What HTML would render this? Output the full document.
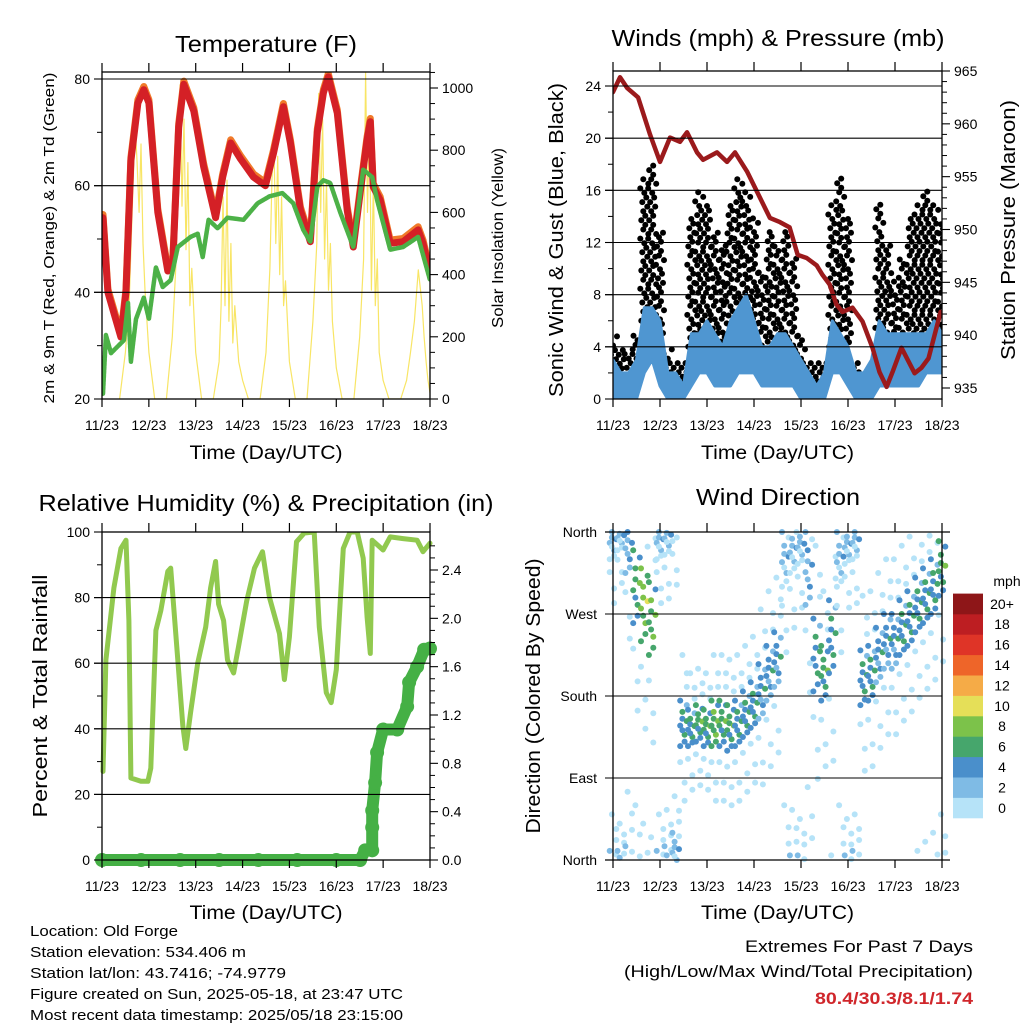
<!DOCTYPE html>
<html><head><meta charset="utf-8"><style>
html,body{margin:0;padding:0;background:#fff}
svg{display:block;font-family:"Liberation Sans",sans-serif}
</style></head><body>
<svg id="c" width="1024" height="1024" viewBox="0 0 1024 1024">
<rect width="1024" height="1024" fill="#fff"/>
</svg>
<script>
// ---------- data (time in hours since 11/23 UTC) ----------
const dayLabels=["11/23","12/23","13/23","14/23","15/23","16/23","17/23","18/23"];
const tempT=[0.5,3,9.7,12.3,14.8,18.4,21.4,24,28.6,33.7,36.3,39.3,41.9,47,52.1,58.2,61.8,65.9,71,77.6,83.7,87.8,92.9,96.5,101.6,106.7,110.3,113.4,115.9,120.5,125.6,128.7,132.2,135.8,137.4,138.9,142.5,147.6,154.2,161.9,164.4,168];
const tempV=[54,40,31.6,40,64.7,75.5,78,75.5,55,44,46,71,79,74,63.5,54,61.6,68,65,61.6,60,66,74.8,68,55.4,49.5,70,77.4,80.4,73.6,55.4,48.5,58.6,68.6,72,59.8,57.3,49.2,49.5,51.7,49.2,43.6];
const dewT=[0.5,2,4.6,11.2,13.3,14.8,17.4,21.4,24,27.6,31.1,35.2,38.8,45.4,49,51.6,54.6,59.2,64.3,72.5,79.7,85.8,92.4,98,103.1,106.7,110.3,113.4,116.9,122,128.7,133.8,138.4,140.9,147.6,154.2,161.9,168];
const dewV=[21,32,28.6,31,38,27,35,39,35,44.7,41,42.3,48.5,50.4,51,46.6,53.6,52,54,53.6,56.7,58,58.6,56.7,51.7,49.5,59.8,61,60.5,55,48.5,63,61.6,57.3,48,48.5,50.4,42.3];
const solarT=[9,12,14,15,16,17,18,19,20,21,22,24,27,
 33,36,38,39,40,41,42,43,44,45,46,48,51,
 57,60,61,62,63,64,65,66,67,68,70,72,75,
 81,84,86,87,88,89,90,91,92,93,94,96,99,
 105,108,110,111,112,113,114,115,116,117,118,120,123,
 129,132,134,135,136,137,138,139,140,141,142,144,147,
 153,156,158,160,162,164,165,166,167,168];
const solarV=[0,150,320,520,700,880,760,600,820,500,350,150,0,
 0,200,450,700,1010,620,900,480,760,300,420,150,0,
 0,120,300,650,300,704,250,500,180,300,120,60,0,
 0,150,420,700,842,500,780,400,650,300,380,120,0,
 0,250,500,983,600,900,450,700,350,500,250,100,0,
 0,200,450,1050,600,900,350,700,300,450,150,60,0,
 0,60,150,250,415,300,200,120,60,20];
const presT=[0,3.6,7.2,12.8,18.9,24,29.1,34.2,37.8,42.9,46,53.1,58.2,62.3,68.4,73.5,80.1,85.2,90.2,94.3,98.9,104,107,110.6,114.1,117.2,122.3,127.4,132.5,136.1,139.7,142.7,147.3,154,157.5,161.1,167.3];
const presV=[963,964.4,963.4,962.5,959,956.4,958.7,958.3,959.2,957.3,956.6,957.3,956.4,957.3,955.5,953.6,951.1,950.7,950.2,947.6,947.3,946.6,945.7,944.8,942.9,942.2,942.6,941.3,938.8,936.5,935.1,936.5,938.8,936.4,936.9,937.8,942.2];
const stepT=[0,4,8,12,16,20,24,28,32,36,40,44,48,52,56,60,64,68,72,76,80,84,88,92,96,100,104,108,112,116,120,124,128,132,136,140,144,148,152,156,160,164,168];
const gustHi=[5,4,4,5,17,18,13,4,3,3,14,16,15,13,12,15,17,16,14,10,13,12,13,11,5,3,3,3,15,17,14,3,2,3,15,12,9,11,14,15,16,15,14];
const gustLo=[2,2,1,1,6,6,4,1,1,1,4,5,5,4,3,5,6,5,3,2,3,4,3,2,1,1,1,1,4,5,4,1,1,1,3,3,2,3,4,4,4,4,5];
const windHi=[3,2,2,3,7,7,6,2,2,1,5,5,6,5,4,6,7,8,6,4,4,5,5,4,3,2,1,2,6,5,4,2,2,3,6,5,5,5,5,5,5,6,5];
const windLo=[0,0,0,0,2,3,1,0,0,0,1,2,2,1,1,1,2,2,2,1,1,1,1,1,0,0,0,0,2,2,1,0,0,0,1,1,1,1,1,1,2,2,2];
const rhT=[0.5,2,6.1,9.7,12.3,13.8,14.8,19.9,23.5,25,27.6,30.1,33.7,35.2,38.8,41.4,42.9,45.4,49,53.1,55.6,58.2,59.7,62.3,64.3,67.4,69.9,74.1,78.1,82.2,85.8,90.9,93.4,96,99.6,103.6,108.7,111.3,114.9,117.4,120,123.6,127.1,130.7,133.8,135.8,137.4,138.4,144,147.6,154.2,161.4,164.4,168];
const rhV=[27,61,83,95,97.5,73,25,24,24,28,70,76,88,89,61,41,34,45,60,71,83,91,78,73,61,57,65,79,89,94,80,69,55,68,97,99.7,100,71,51,48,58,95,100,100,92,74,63,97.5,94.5,98.5,98,97.5,94,96.6];
const prT=[0,20,40,60,80,100,120,132.2,134.8,138.4,138.4,138.4,139.9,140.9,144,151.2,156.3,157.3,161.4,165,168];
const prV=[0,0,0,0,0,0,0,0,0.08,0.08,0.27,0.41,0.64,0.89,1.08,1.08,1.27,1.47,1.6,1.74,1.75];
const dirMid=[350,355,345,300,280,265,350,355,10,150,145,150,145,150,150,145,150,160,170,185,205,220,330,340,345,320,225,205,245,330,345,350,200,205,225,240,240,255,265,280,290,300,320];
const dirSpread=[20,15,30,40,40,40,20,20,20,25,20,20,20,25,25,25,25,25,25,30,30,30,30,25,20,40,40,30,40,30,20,20,30,30,30,30,30,30,30,30,30,30,30];
const dirSpd=[1,1,2,5,7,6,1,1,1,4,4,5,5,6,5,5,4,4,4,3,3,3,1,1,1,2,4,5,4,1,1,1,4,4,3,3,3,4,4,4,4,4,5];
const cbLabels=["0","2","4","6","8","10","12","14","16","18","20+"];
const cbColors=["#b6e3f8","#7fbbe5","#4a8fcb","#46a66c","#7cc24a","#e5df58","#f5ab47","#ee6529","#df3427","#bd1e22","#8e1618"];

// ---------- helpers ----------
const svg=document.getElementById('c');
const NS='http://www.w3.org/2000/svg';
function E(tag,at,parent){const e=document.createElementNS(NS,tag);for(const k in at)e.setAttribute(k,at[k]);(parent||svg).appendChild(e);return e;}
function T(x,y,s,size,anchor,extra){const e=E('text',Object.assign({x:x,y:y,'font-size':size,'text-anchor':anchor||'start',fill:'#000'},extra||{}));e.textContent=s;return e;}
function lin(d0,d1,r0,r1){return v=>r0+(v-d0)/(d1-d0)*(r1-r0);}

function panel(name){
  const g=E('g',{});
  
  
  return g;
}
function frame(g,x0,x1,y0,y1){
  const r=E('rect',{x:x0,y:y0,width:x1-x0,height:y1-y0,fill:'none',stroke:'#000','stroke-width':1.3},g);
  
  
}
function xAxis(g,x0,x1,y0,y1,labelY,titleY){
  const xs=lin(0,168,x0,x1);
  dayLabels.forEach((d,i)=>{
    const x=xs(i*24);
    E('line',{x1:x,x2:x,y1:y1,y2:y1+8,stroke:'#000','stroke-width':1.2},g);
    E('line',{x1:x,x2:x,y1:y0-9,y2:y0,stroke:'#000','stroke-width':1.2},g);
    const t=T(x,labelY,d,14,'middle');
    
    
  });
  const tt=T((x0+x1)/2,titleY,"Time (Day/UTC)",19,'middle',{textLength:153,lengthAdjust:'spacingAndGlyphs'});
  
  
  return xs;
}
function grid(g,x0,x1,ys){ys.forEach(y=>E('line',{x1:x0-8,x2:x1,y1:y,y2:y,stroke:'#000','stroke-width':1.1},g));}
function ticksL(g,x,vals,ys,fmt,minor){
  vals.forEach(v=>{const y=ys(v);E('line',{x1:x-8,x2:x,y1:y,y2:y,stroke:'#000','stroke-width':1.1},g);
    const t=T(x-12,y+5,fmt(v),14,'end');});
  (minor||[]).forEach(v=>{const y=ys(v);E('line',{x1:x-5,x2:x,y1:y,y2:y,stroke:'#000','stroke-width':1},g);});
}
function ticksR(g,x,vals,ys,fmt,minor){
  vals.forEach(v=>{const y=ys(v);E('line',{x1:x,x2:x+8,y1:y,y2:y,stroke:'#000','stroke-width':1.1},g);
    const t=T(x+12,y+5,fmt(v),14,'start');});
  (minor||[]).forEach(v=>{const y=ys(v);E('line',{x1:x,x2:x+5,y1:y,y2:y,stroke:'#000','stroke-width':1},g);});
}
function rot(x,y,s,size,len,name){
  const t=T(0,0,s,size,'middle',{transform:`translate(${x},${y}) rotate(-90)`,textLength:len,lengthAdjust:'spacingAndGlyphs'});
  
}
function path(g,xs,ys,T_,V_,attrs,name){
  let d='';T_.forEach((t,i)=>{d+=(i?'L':'M')+xs(t).toFixed(1)+','+ys(V_[i]).toFixed(1);});
  const p=E('path',Object.assign({d:d,fill:'none','stroke-linejoin':'round','stroke-linecap':'round'},attrs),g);
  return p;
}
function range(a,b,s){const r=[];for(let v=a;v<=b+1e-9;v+=s)r.push(+v.toFixed(3));return r;}
function title(x,y,s,len,name){const t=T(x,y,s,23,'middle',{textLength:len,lengthAdjust:'spacingAndGlyphs'});}

// ---------- Panel 1: Temperature ----------
(function(){
  const x0=102,x1=430,y0=72,y1=399;
  const g=panel('temperature-panel');
  title(266,52,"Temperature (F)",182,'temperature-title');
  const xs=lin(0,168,x0,x1), ys=lin(20,80,y1,79), ysS=lin(0,1000,y1,88);
  const cp=E('clipPath',{id:'cp1'},g);E('rect',{x:x0,y:y0,width:x1-x0,height:y1-y0},cp);
  const pg=E('g',{'clip-path':'url(#cp1)'},g);
  path(pg,xs,ysS,solarT,solarV,{stroke:'#f7e04a','stroke-width':1.2,opacity:0.85},'solar-insolation-line');
  path(pg,xs,ys,tempT,tempV.map(v=>v+0.6),{stroke:'#f07a2a','stroke-width':7},'temp-9m-line');
  path(pg,xs,ys,tempT,tempV,{stroke:'#d42026','stroke-width':7},'temp-2m-line');
  path(pg,xs,ys,dewT,dewV,{stroke:'#4cb147','stroke-width':4.5,'stroke-dasharray':'3 1'},'dewpoint-line');
  grid(g,x0,x1,[ys(40),ys(60),ys(80)]);
  frame(g,x0,x1,y0,y1);
  xAxis(g,x0,x1,y0,y1,430,459);
  ticksL(g,x0,[20,40,60,80],ys,v=>v,[30,50,70]);
  ticksR(g,x1,[0,200,400,600,800,1000],ysS,v=>v,range(50,1050,50).filter(v=>v%200));
  rot(54,238,"2m & 9m T (Red, Orange) & 2m Td (Green)",15,331,'temperature-y-axis-title');
  rot(503,238,"Solar Insolation (Yellow)",16,180,'solar-y-axis-title');
})();

// ---------- Panel 2: Winds & Pressure ----------
(function(){
  const x0=613,x1=942,y0=71,y1=399;
  const g=panel('winds-pressure-panel');
  title(778,46,"Winds (mph) & Pressure (mb)",333,'winds-title');
  const xs=lin(0,168,x0,x1), ys=lin(0,24,y1,86), yp=lin(935,965,388,71);
  const cp=E('clipPath',{id:'cp2'},g);E('rect',{x:x0,y:y0,width:x1-x0,height:y1-y0},cp);
  const pg=E('g',{'clip-path':'url(#cp2)'},g);
  const jx=[-3,1,-1,3,-2,2,0,-4,4,-1,1];
  // gust dots
  stepT.forEach((t,i)=>{
    let k=0;
    for(let v=gustLo[i];v<=gustHi[i];v+=0.35){
      const c=E('circle',{cx:(xs(t)+jx[k%11]).toFixed(1),cy:ys(v).toFixed(1),r:3,fill:'#000'},pg);
      
      
      k++;
    }
  });
  // sonic wind band
  let d='';stepT.forEach((t,i)=>{d+=(i?'L':'M')+xs(t).toFixed(1)+','+ys(windHi[i]).toFixed(1);});
  for(let i=stepT.length-1;i>=0;i--)d+='L'+xs(stepT[i]).toFixed(1)+','+ys(windLo[i]).toFixed(1);
  const band=E('path',{d:d+'Z',fill:'#4f96d1',stroke:'#4f96d1','stroke-width':3,'stroke-linejoin':'round'},pg);
  
  
  path(pg,xs,yp,presT,presV,{stroke:'#9b1a1c','stroke-width':4.5},'pressure-line');
  grid(g,x0,x1,[4,8,12,16,20,24].map(ys));
  frame(g,x0,x1,y0,y1);
  xAxis(g,x0,x1,y0,y1,430,459);
  ticksL(g,x0,[0,4,8,12,16,20,24],ys,v=>v,[2,6,10,14,18,22]);
  ticksR(g,x1,[935,940,945,950,955,960,965],yp,v=>v,range(936,964,1).filter(v=>v%5));
  rot(563,240,"Sonic Wind & Gust (Blue, Black)",20,314,'wind-y-axis-title');
  rot(1015,230,"Station Pressure (Maroon)",20,260,'pressure-y-axis-title');
})();

// ---------- Panel 3: RH & Precip ----------
(function(){
  const x0=102,x1=430,y0=532,y1=860;
  const g=panel('humidity-precip-panel');
  title(266,511,"Relative Humidity (%) & Precipitation (in)",455,'humidity-title');
  const xs=lin(0,168,x0,x1), ys=lin(0,100,y1,y0), yr=lin(0,2.4,y1,570);
  const cp=E('clipPath',{id:'cp3'},g);E('rect',{x:x0-10,y:y0,width:x1-x0+20,height:y1-y0+10},cp);
  const pg=E('g',{'clip-path':'url(#cp3)'},g);
  path(pg,xs,ys,rhT,rhV,{stroke:'#91c94f','stroke-width':5},'relative-humidity-line');
  path(pg,xs,yr,prT,prV,{stroke:'#45b045','stroke-width':12},'precip-line');
  prT.forEach((t,i)=>{const c=E('circle',{cx:xs(t),cy:yr(prV[i]),r:7,fill:'#45b045'},pg);
    });
  grid(g,x0,x1,[20,40,60,80].map(ys));
  frame(g,x0,x1,y0,y1);
  xAxis(g,x0,x1,y0,y1,891,919);
  ticksL(g,x0,[0,20,40,60,80,100],ys,v=>v,[10,30,50,70,90]);
  ticksR(g,x1,[0,0.4,0.8,1.2,1.6,2.0,2.4],yr,v=>v.toFixed(1),range(0.1,2.6,0.1).filter(v=>Math.round(v*10)%4));
  rot(47,696,"Percent & Total Rainfall",20,243,'rh-y-axis-title');
})();

// ---------- Panel 4: Wind Direction ----------
(function(){
  const x0=613,x1=942,y0=532,y1=860;
  const g=panel('wind-direction-panel');
  title(778,505,"Wind Direction",164,'wind-direction-title');
  const xs=lin(0,168,x0,x1), yd=lin(0,360,y1,y0);
  const off=[-1,0.2,-0.5,0.8,-0.1,0.5,-0.8,0.1,1,-0.3,-2.6,2.2,-1.7,3.0,-3.4,1.6];
  const sOff=[-1,0,1,-2,0,1,-1,2,0,-1,-9,-9,-9,-9,-9,-9];
  stepT.forEach((t,i)=>{
    for(let k=0;k<off.length;k++){
      let dv=dirMid[i]+off[k]*dirSpread[i]; if(dv<0)dv+=360; if(dv>360)dv-=360;
      const s=Math.max(0,Math.min(20,dirSpd[i]+sOff[k]));
      const ci=Math.min(10,Math.round(s/2));
      const c=E('circle',{cx:(xs(t)+((k%4)-1.5)*2.2).toFixed(1),cy:yd(dv).toFixed(1),r:3,fill:cbColors[ci]},g);
      
      
    }
  });
  grid(g,x0,x1,[90,180,270].map(yd));
  E('line',{x1:x0-8,x2:x1+8,y1:y0,y2:y0,stroke:'#000','stroke-width':1.3},g);
  E('line',{x1:x0-8,x2:x1+8,y1:y1,y2:y1,stroke:'#000','stroke-width':1.3},g);
  E('line',{x1:x0,x2:x0,y1:y0,y2:y1,stroke:'#000','stroke-width':1.3},g);
  E('line',{x1:x1,x2:x1,y1:y0,y2:y1,stroke:'#000','stroke-width':1.3},g);
  xAxis(g,x0,x1,y0,y1,891,919);
  const dirNames=["North","East","South","West","North"];
  dirNames.forEach((n,i)=>{const t=T(597,yd(i*90)+5,n,14,'end');});
  rot(540,696,"Direction (Colored By Speed)",20,275,'direction-y-axis-title');
  // colorbar
  const cb=E('g',{});
  
  
  const bh=20.4, by=818;
  cbColors.forEach((c,i)=>{const r=E('rect',{x:953,y:by-(i+1)*bh,width:30,height:bh+0.3,fill:c},cb);
    
    const t=T(1002,by-(i+0.5)*bh+5,cbLabels[i],14,'middle');});
  const m=T(1007,586,"mph",14,'middle');
})();

// ---------- footer text ----------
const info=[["Location: Old Forge",148],["Station elevation: 534.406 m",216],["Station lat/lon: 43.7416; -74.9779",256],["Figure created on Sun, 2025-05-18, at 23:47 UTC",373],["Most recent data timestamp: 2025/05/18 23:15:00",373]];
info.forEach((s,i)=>{const t=T(30,936+i*21,s[0],15,'start',{textLength:s[1],lengthAdjust:'spacingAndGlyphs'});
  });
let t=T(973,952,"Extremes For Past 7 Days",17,'end',{textLength:228,lengthAdjust:'spacingAndGlyphs'});

t=T(973,977,"(High/Low/Max Wind/Total Precipitation)",17,'end',{textLength:349,lengthAdjust:'spacingAndGlyphs'});

t=T(973,1004,"80.4/30.3/8.1/1.74",17,'end',{fill:'#d0262b','font-weight':'bold',textLength:158,lengthAdjust:'spacingAndGlyphs'});

</script>
</body></html>
